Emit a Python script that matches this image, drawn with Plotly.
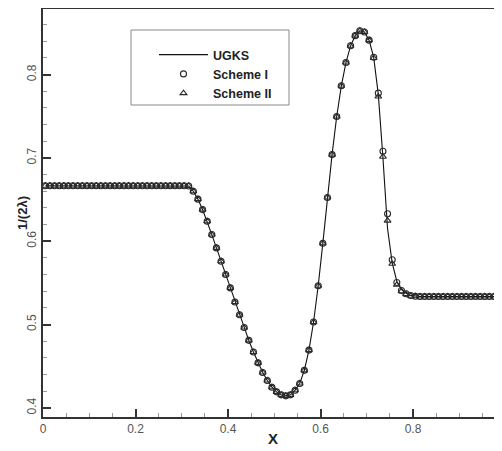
import numpy as np
import plotly.graph_objects as go

# cell centres
x = [round(0.005 + 0.01 * i, 3) for i in range(100)]

left_flat = [0.6667] * 31
right_flat = [0.5337] * 19

mid_scheme1 = [0.6663, 0.660, 0.6505, 0.638, 0.624, 0.608, 0.592, 0.576, 0.560, 0.544,
               0.527, 0.5117, 0.4964, 0.481, 0.467, 0.454, 0.4424, 0.4328, 0.4248, 0.4192,
               0.4156, 0.4144, 0.4156, 0.4212, 0.4292, 0.445, 0.4693, 0.503, 0.5465, 0.5975,
               0.6525, 0.704, 0.7497, 0.7866, 0.8145, 0.8346, 0.8468, 0.8526, 0.8512, 0.8414,
               0.8208, 0.7778, 0.708, 0.633, 0.5777, 0.5504, 0.5408, 0.5369, 0.5348, 0.5340]

mid_scheme2 = [0.6663, 0.660, 0.6505, 0.638, 0.624, 0.608, 0.592, 0.576, 0.560, 0.544,
               0.527, 0.5117, 0.4964, 0.481, 0.467, 0.454, 0.4424, 0.4328, 0.4248, 0.4192,
               0.4156, 0.4144, 0.4156, 0.4212, 0.4292, 0.445, 0.4693, 0.503, 0.5465, 0.5975,
               0.6525, 0.704, 0.7497, 0.7866, 0.8145, 0.8346, 0.8468, 0.8526, 0.8512, 0.8414,
               0.8200, 0.7737, 0.7015, 0.6247, 0.5729, 0.5477, 0.5400, 0.5365, 0.5346, 0.5340]

mid_ugks = [0.6663, 0.660, 0.6505, 0.638, 0.624, 0.608, 0.592, 0.576, 0.560, 0.544,
            0.527, 0.5117, 0.4964, 0.481, 0.467, 0.454, 0.4424, 0.4328, 0.4248, 0.4192,
            0.4156, 0.4144, 0.4156, 0.4212, 0.4292, 0.445, 0.4693, 0.503, 0.5465, 0.5975,
            0.6525, 0.704, 0.7497, 0.7866, 0.8145, 0.8346, 0.8468, 0.8526, 0.8512, 0.8414,
            0.8208, 0.7760, 0.7000, 0.6150, 0.5740, 0.5520, 0.5420, 0.5375, 0.5350, 0.5340]

ugks = left_flat + mid_ugks + right_flat
scheme1 = left_flat + mid_scheme1 + right_flat
scheme2 = left_flat + mid_scheme2 + right_flat

x_ticks = [0, 0.2, 0.4, 0.6, 0.8]
x_tick_labels = ["0", "0.2", "0.4", "0.6", "0.8"]
y_ticks = [0.4, 0.5, 0.6, 0.7, 0.8]
y_tick_labels = ["0.4", "0.5", "0.6", "0.7", "0.8"]

FONT = "Liberation Sans, Arial, sans-serif"
# the page body has an 8px margin, so the figure is made 8px smaller and shifted
PW, PH = 459, 408  # plot area size in px
PL, PB = 43, 417   # plot left / bottom on the page

fig = go.Figure()
fig.add_trace(go.Scatter(x=x, y=ugks, mode="lines", name="<b>UGKS</b>",
                         line=dict(color="#111111", width=1.1)))
fig.add_trace(go.Scatter(x=x, y=scheme1, mode="markers", name="<b>Scheme I</b>",
                         marker=dict(symbol="circle-open", size=6, color="#2a2a2a",
                                     line=dict(width=1.1, color="#2a2a2a"))))
fig.add_trace(go.Scatter(x=x, y=scheme2, mode="markers", name="<b>Scheme II</b>",
                         marker=dict(symbol="triangle-up-open", size=6, color="#2a2a2a",
                                     line=dict(width=1.1, color="#2a2a2a"))))

# legend frame
fig.add_shape(type="rect", xref="paper", yref="paper",
              x0=(131 - PL) / PW, x1=(289 - PL) / PW,
              y0=(PB - 105) / PH, y1=(PB - 30) / PH,
              line=dict(color="#888888", width=1), fillcolor="white", layer="below")

# axis titles
fig.add_annotation(text="<b>X</b>", xref="paper", yref="paper", x=(273 - PL) / PW, y=-21 / PH,
                   xanchor="center", yanchor="middle", showarrow=False,
                   font=dict(family=FONT, size=15, color="#222222"))
fig.add_annotation(text="<b>1/(2λ)</b>", xref="paper", yref="paper", x=-21 / PW, y=0.5,
                   xanchor="center", yanchor="middle", showarrow=False, textangle=-90,
                   font=dict(family=FONT, size=13, color="#222222"))

fig.update_layout(
    width=494, height=443,
    margin=dict(l=35, r=0, t=1, b=34, autoexpand=False),
    paper_bgcolor="white", plot_bgcolor="white",
    font=dict(family=FONT, color="#444444", size=12),
    showlegend=True,
    legend=dict(x=(154 - PL) / PW, y=(PB - 40) / PH, xanchor="left", yanchor="top",
                bgcolor="rgba(0,0,0,0)", borderwidth=0,
                font=dict(family=FONT, size=12.5, color="#222222"),
                tracegroupgap=0, itemwidth=49),
    xaxis=dict(range=[0, 0.9924], tickvals=x_ticks, ticktext=x_tick_labels,
               ticks="inside", ticklen=8, tickwidth=2, tickcolor="#333333",
               showline=True, linewidth=2, linecolor="#333333", mirror=True,
               showgrid=False, zeroline=False, automargin=False,
               minor=dict(dtick=0.05, ticks="inside", ticklen=4, tickwidth=1, tickcolor="#999999"),
               tickfont=dict(size=12, color="#555555")),
    yaxis=dict(range=[0.389, 0.8788], tickvals=y_ticks, ticktext=y_tick_labels,
               ticks="inside", ticklen=8, tickwidth=2, tickcolor="#333333",
               showline=True, linewidth=2, linecolor="#333333", mirror=False,
               showgrid=False, zeroline=False, tickangle=-90, automargin=False,
               minor=dict(dtick=0.02, tick0=0.4, ticks="inside", ticklen=4, tickwidth=1, tickcolor="#999999"),
               tickfont=dict(size=12, color="#555555")),
)

fig.write_html("out.html")
